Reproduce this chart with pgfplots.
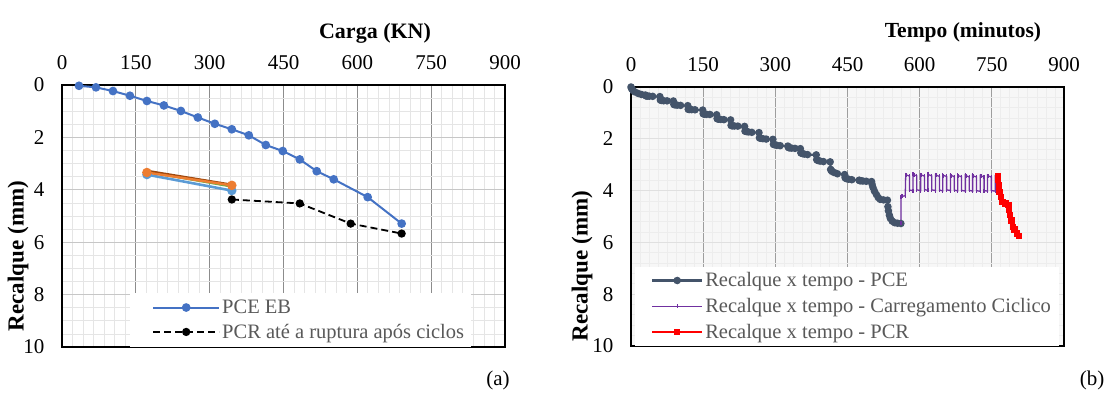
\documentclass[border=0pt]{standalone}
\usepackage{fontspec}
\setmainfont{Liberation Serif}
\usepackage{pgfplots}
\pgfplotsset{compat=1.18}
\definecolor{pceblue}{HTML}{4472C4}
\definecolor{cycblue}{HTML}{5B9BD5}
\definecolor{cycgreen}{HTML}{70AD47}
\definecolor{cycbrown}{HTML}{9E480E}
\definecolor{cycorange}{HTML}{ED7D31}
\definecolor{slate}{HTML}{44546A}
\definecolor{purp}{HTML}{7030A0}
\definecolor{leggray}{HTML}{595959}
\pgfplotsset{
  common/.style={
    anchor=south west, scale only axis,
    xmin=0, xmax=900, ymin=0, ymax=10, y dir=reverse,
    xtick={0,150,...,900}, ytick={0,2,...,10},
    xticklabel pos=upper,
    major tick length=0pt, minor tick length=0pt,
    grid=both,
    axis line style={black, line width=1.5pt},
    /pgf/number format/assume math mode=true,
    ticklabel style={font=\fontsize{21}{24}\selectfont},
    xticklabel style={yshift=12pt},
    yticklabel style={xshift=-14pt},
    legend cell align=left,
  }
}
\begin{document}
\begin{tikzpicture}
\useasboundingbox (0,0) rectangle (1108pt,392pt);
% ---------------- (a) ----------------
\begin{axis}[common,
  at={(62pt,45pt)}, width=443pt, height=262pt,
  minor x tick num=6, minor y tick num=3,
  major x grid style={color=black!45, line width=1.1pt},
  major y grid style={color=black!22, line width=1.3pt},
  minor grid style={color=black!10, line width=0.8pt},
  legend style={at={(0.1535,0)}, anchor=south west, draw=none, fill=white,
    font=\fontsize{20.5}{24}\selectfont, text=leggray, inner xsep=5pt, inner ysep=5pt, row sep=5pt},
  legend image code/.code={\path (0pt,0pt); \draw[mark repeat=2,mark phase=2,#1] plot coordinates {(17pt,0pt) (50pt,0pt) (83pt,0pt)};},
]
\addplot[pceblue, line width=2pt, mark=*, mark size=3.3pt] coordinates {
(34.5,0.03) (69,0.09) (103.5,0.23) (138,0.41) (172.5,0.61) (207,0.78) (241.5,0.99)
(276,1.24) (310.5,1.48) (345,1.69) (379.5,1.92) (414,2.29) (448.5,2.52) (483,2.84)
(517.5,3.29) (552,3.60) (621,4.28) (690,5.29)};
\addlegendentry{PCE EB}
\addplot[cycblue, line width=2.6pt, mark=*, mark size=3.3pt, forget plot] coordinates {(172.5,3.42) (345,4.03)};
\addplot[cycgreen, line width=2pt, forget plot] coordinates {(172.5,3.32) (345,3.88)};
\addplot[cycbrown, line width=2pt, forget plot] coordinates {(172.5,3.27) (345,3.80)};
\addplot[cycorange, line width=2.4pt, mark=*, mark size=3.5pt, forget plot] coordinates {(172.5,3.34) (345,3.83)};
\addplot[black, line width=1.8pt, dash pattern=on 7pt off 4pt, mark=*, mark size=3.2pt, mark options={solid}] coordinates {
(345,4.37) (483,4.52) (586.5,5.29) (690,5.67)};
\addlegendentry{PCR até a ruptura após ciclos}
\end{axis}
% ---------------- (b) ----------------
\begin{axis}[common,
  at={(631pt,46pt)}, width=433pt, height=259pt,
  minor x tick num=7, minor y tick num=4,
  axis background/.style={fill=black!3},
  major x grid style={color=black!38, line width=1.2pt},
  major y grid style={color=black!12, line width=1.2pt},
  minor grid style={color=black!7, line width=0.9pt},
  legend style={at={(0.009,0)}, anchor=south west, draw=none, fill=white,
    font=\fontsize{20.5}{24}\selectfont, text=leggray, inner xsep=6pt, inner ysep=4pt, row sep=6pt},
  legend image code/.code={\path (0pt,0pt); \draw[mark repeat=2,mark phase=2,#1] plot coordinates {(10pt,0pt) (35pt,0pt) (60pt,0pt)};},
]
\addplot[slate, line width=2.2pt, mark=*, mark size=2.6pt] coordinates {
(0,0.00) (1,0.05) (2,0.08) (4,0.13) (8,0.19) (15,0.25) (22,0.29) (30,0.31)
(31,0.34) (32,0.345) (34,0.35) (38,0.355) (45,0.36) (60,0.37)
(61,0.50) (62,0.51) (64,0.52) (68,0.53) (75,0.535) (88,0.54)
(89,0.67) (90,0.68) (92,0.69) (96,0.70) (103,0.71) (118,0.72)
(119,0.86) (120,0.865) (122,0.87) (126,0.875) (133,0.88) (149,0.89)
(150,1.03) (151,1.04) (153,1.05) (157,1.055) (164,1.06) (178,1.07)
(179,1.22) (180,1.23) (182,1.24) (186,1.25) (193,1.26) (207,1.27)
(208,1.48) (209,1.49) (211,1.50) (215,1.505) (222,1.51) (236,1.52)
(237,1.70) (238,1.71) (240,1.72) (244,1.735) (251,1.75) (266,1.76)
(267,1.96) (268,1.97) (270,1.98) (274,1.995) (281,2.01) (295,2.02)
(296,2.21) (297,2.22) (299,2.23) (303,2.25) (310,2.265) (326,2.28)
(327,2.33) (328,2.34) (330,2.35) (334,2.36) (341,2.37) (352,2.38)
(353,2.54) (354,2.55) (356,2.57) (360,2.59) (367,2.61) (385,2.62)
(386,2.80) (387,2.82) (389,2.84) (393,2.86) (400,2.88) (414,2.89)
(415,3.18) (416,3.22) (418,3.26) (422,3.30) (429,3.35) (444,3.38)
(445,3.50) (446,3.52) (448,3.54) (452,3.56) (459,3.58) (474,3.60)
(475,3.61) (476,3.615) (478,3.62) (482,3.63) (489,3.64) (500,3.65)
(501,3.75) (503,3.88) (506,4.02) (510,4.15) (514,4.27) (518,4.34) (525,4.36) (533,4.37)
(534,4.62) (535,4.78) (537,4.95) (539,5.07) (543,5.18) (548,5.24) (554,5.26) (561,5.27)};
\addlegendentry{Recalque x tempo - PCE}
\addplot[purp, line width=1.3pt, mark=|, mark size=2pt] coordinates {
(561,5.27) (561,4.24) (563,4.22) (570,4.20)
(571,3.38) (573,3.40) (579,3.44) (579,3.98) (586,4.00)
(586,3.36) (588,3.39) (594,3.43) (594,3.97) (602,4.00)
(602,3.38) (604,3.40) (610,3.44) (610,3.96) (617,3.99)
(617,3.36) (619,3.39) (625,3.43) (625,3.97) (633,4.00)
(633,3.39) (635,3.41) (641,3.45) (641,3.98) (648,4.01)
(648,3.39) (650,3.42) (656,3.45) (656,3.97) (664,4.00)
(664,3.40) (666,3.42) (672,3.46) (672,3.98) (679,4.01)
(679,3.40) (681,3.43) (687,3.46) (687,3.99) (695,4.02)
(695,3.41) (697,3.43) (703,3.47) (703,3.99) (710,4.02)
(710,3.41) (712,3.44) (718,3.47) (718,4.00) (726,4.03)
(726,3.42) (728,3.44) (734,3.47) (734,4.00) (741,4.02)
(741,3.42) (743,3.44) (749,3.47) (749,4.00) (757,4.02)
(757,3.42) (760,3.43) (763,3.44)};
\addlegendentry{Recalque x tempo - Carregamento Ciclico}
\addplot[red, line width=1.6pt, mark=square*, mark size=2.4pt] coordinates {
(763,3.44) (763,3.60) (765,3.80) (766,4.05) (769,4.25) (772,4.45) (778,4.50) (785,4.56)
(786,4.75) (788,4.95) (791,5.15) (794,5.40) (797,5.50) (802,5.65) (806,5.76)};
\addlegendentry{Recalque x tempo - PCR}
\end{axis}
% ---------------- labels ----------------
\node[font=\bfseries\fontsize{22}{26}\selectfont] at (375pt,359pt) {Carga (KN)};
\node[font=\bfseries\fontsize{21.5}{26}\selectfont] at (963pt,360pt) {Tempo (minutos)};
\node[rotate=90, font=\bfseries\fontsize{23}{26}\selectfont] at (18pt,136pt) {Recalque (mm)};
\node[rotate=90, font=\bfseries\fontsize{23}{26}\selectfont] at (582pt,126pt) {Recalque (mm)};
\node[font=\fontsize{21}{24}\selectfont] at (498pt,12pt) {(a)};
\node[font=\fontsize{21}{24}\selectfont] at (1092pt,12pt) {(b)};
\end{tikzpicture}
\end{document}
